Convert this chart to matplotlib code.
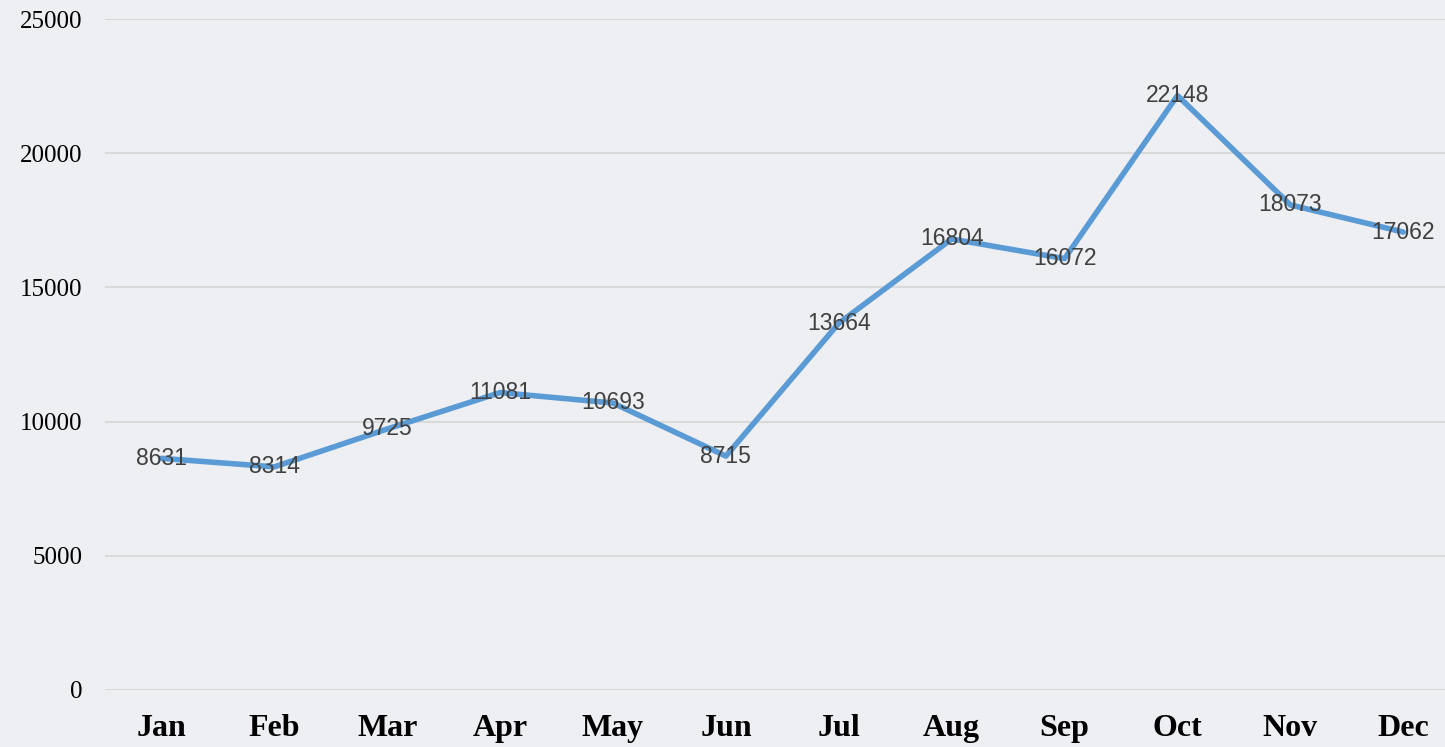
import matplotlib.pyplot as plt

months = ['Jan', 'Feb', 'Mar', 'Apr', 'May', 'Jun',
          'Jul', 'Aug', 'Sep', 'Oct', 'Nov', 'Dec']
values = [8631, 8314, 9725, 11081, 10693, 8715,
          13664, 16804, 16072, 22148, 18073, 17062]
yticks = [0, 5000, 10000, 15000, 20000, 25000]

bg = '#edeff2'
fig = plt.figure(figsize=(14.45, 7.47), dpi=100, facecolor=bg)
ax = fig.add_axes([105 / 1445, 57 / 747, 1340 / 1445, 671 / 747])
ax.set_facecolor(bg)

x = list(range(len(months)))
ax.plot(x, values, color='#5b9bd5', linewidth=4, solid_joinstyle='round',
        solid_capstyle='round', zorder=3)
for xi, v in zip(x, values):
    ax.text(xi, v, str(v), ha='center', va='center', fontsize=16.5,
            family='Liberation Sans', color='#404040', zorder=4)

ax.set_xlim(-0.5, 11.37)
ax.set_ylim(0, 25000)
ax.set_yticks(yticks)
ax.set_yticklabels([str(t) for t in yticks], family='Liberation Serif',
                   fontsize=18, color='black')
ax.set_xticks(x)
ax.set_xticklabels(months, family='Liberation Serif', fontsize=23,
                   fontweight='bold', color='black')
ax.tick_params(axis='y', length=0, pad=16)
ax.tick_params(axis='x', length=0, pad=17)
ax.grid(axis='y', color='#d9d9d9', linewidth=1.5)
ax.set_axisbelow(True)
for s in ax.spines.values():
    s.set_visible(False)

fig.savefig('out.png', dpi=100, facecolor=bg)
